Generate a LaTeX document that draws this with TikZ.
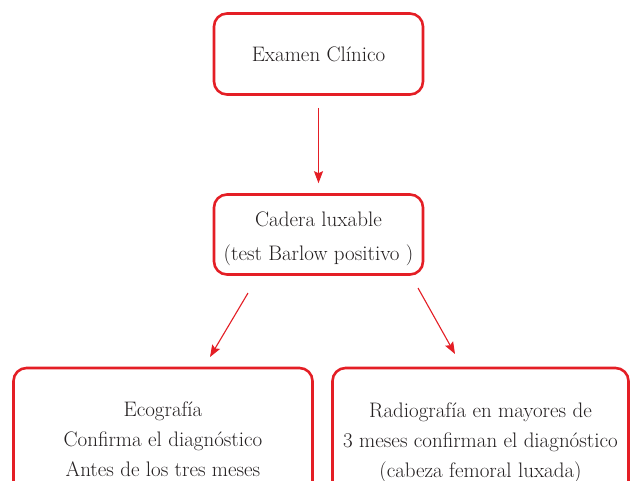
\documentclass[tikz,border=0pt]{standalone}
\usetikzlibrary{arrows.meta,calc}
\definecolor{boxred}{RGB}{228,30,37}
\definecolor{txt}{RGB}{35,31,32}
\begin{document}
\begin{tikzpicture}[x=1pt,y=-1pt,
  box/.style={draw=boxred, line width=2.6pt, rounded corners=13pt, align=center,
    text=txt, inner sep=0pt, font=\fontsize{21}{30}\selectfont},
  arr/.style={draw=boxred, line width=1.1pt, -{Stealth[length=12pt,width=9pt,inset=2pt]}}]
\useasboundingbox (0,0) rectangle (631,480);
\clip (0,0) rectangle (631,480);
\fill[white] (0,0) rectangle (631,480);
\node[box, minimum width=209pt, minimum height=81pt] (exam) at (318.5,54) {Examen Clínico};
\node[box, minimum width=209pt, minimum height=80pt, text height=57pt, font=\fontsize{21}{34}\selectfont] (cad) at (318.5,234.5) {Cadera luxable\\(test Barlow positivo )};
\node[box, minimum width=299pt, minimum height=150pt, text depth=8pt] (eco) at (163,443) {Ecografía\\Confirma el diagnóstico\\Antes de los tres meses};
\node[box, minimum width=296pt, minimum height=150pt] (rad) at (480.5,443) {Radiografía en mayores de\\3 meses confirman el diagnóstico\\(cabeza femoral luxada)};
\coordinate (a1s) at (248,293);
\coordinate (a1e) at (210,357);
\coordinate (a2s) at (418,288);
\coordinate (a2e) at (455,354);
\draw[arr, shorten <=12pt, shorten >=10pt] (exam.south) -- (cad.north);
\draw[arr] (a1s) -- (a1e);
\draw[arr] (a2s) -- (a2e);
\end{tikzpicture}
\end{document}
